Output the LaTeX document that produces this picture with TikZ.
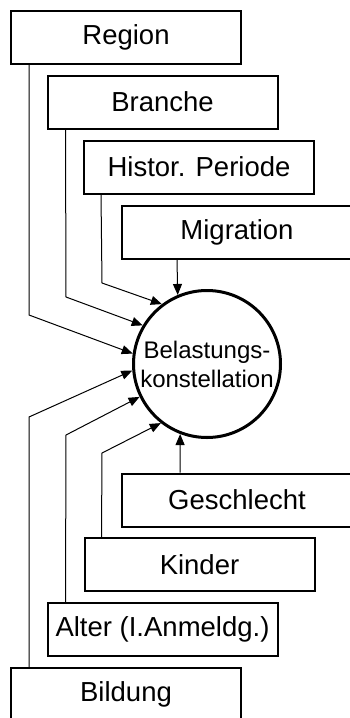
\documentclass[tikz,border=0pt]{standalone}
\usepackage{fontspec}
\setmainfont{Liberation Sans}
\usetikzlibrary{arrows.meta}
\begin{document}
\begin{tikzpicture}[x=1pt,y=-1pt,
  box/.style={draw,line width=2pt,minimum width=230pt,minimum height=53pt,inner sep=0pt,font=\fontsize{27.5}{30}\selectfont},
  hub/.style={draw,circle,line width=3pt,minimum size=147pt,inner sep=0pt,align=center,font=\fontsize{24}{29}\selectfont},
  conn/.style={line width=1pt,-{Triangle[length=11pt,width=9pt]}}]
\useasboundingbox (0,0) rectangle (349,718);
\node[box] (region) at (126,37.5) {Region};
\node[box] (branche) at (162.5,102) {Branche};
\node[box] (histor) at (199,167) {Histor. Periode};
\node[box] (migration) at (237,232) {Migration};
\node[box] (geschlecht) at (237,500) {Geschlecht};
\node[box] (kinder) at (199.5,564.5) {Kinder};
\node[box] (alter) at (162.5,629.5) {Alter (I.Anmeldg.)};
\node[box] (bildung) at (126,694.5) {Bildung};
\node[hub] (c) at (207,364) {Belastungs-\\konstellation};
\coordinate (b1) at (29,315);
\coordinate (b2) at (66,297);
\coordinate (b3) at (102,283);
\coordinate (b5) at (29,417);
\coordinate (b6) at (66,435);
\coordinate (b7) at (102,453);
\draw[conn] ([xshift=19pt]region.south west) -- (b1) -- (c.172);
\draw[conn] ([xshift=19pt]branche.south west) -- (b2) -- (c.149.5);
\draw[conn] ([xshift=18pt]histor.south west) -- (b3) -- (c.127.6);
\draw[conn] ([xshift=56pt]migration.south west) -- (c.113.3);
\draw[conn] ([xshift=19pt]bildung.north west) -- (b5) -- (c.185.8);
\draw[conn] ([xshift=19pt]alter.north west) -- (b6) -- (c.206.9);
\draw[conn] ([xshift=18pt]kinder.north west) -- (b7) -- (c.232.1);
\draw[conn] ([xshift=59pt]geschlecht.north west) -- (c.249.2);
\end{tikzpicture}
\end{document}
